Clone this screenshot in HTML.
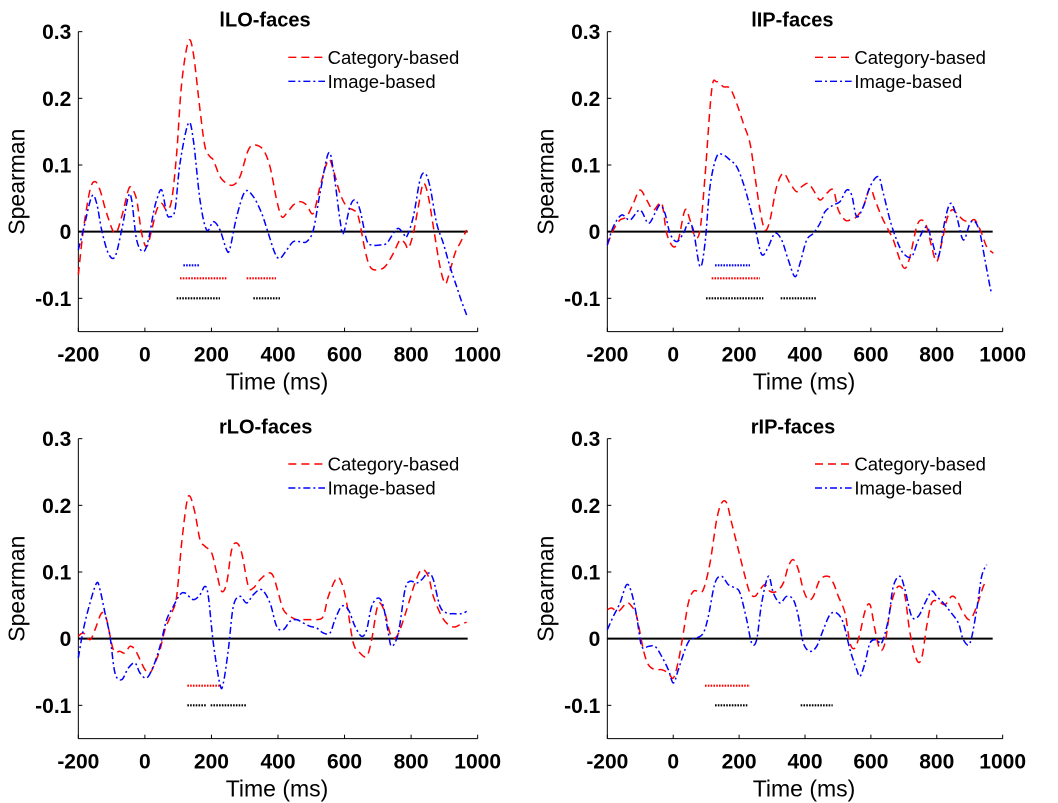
<!DOCTYPE html>
<html><head><meta charset="utf-8"><style>
body{margin:0;background:#fff;}
svg{display:block;font-family:"Liberation Sans",Arial,sans-serif;}
</style></head><body>
<svg id="s" width="1058" height="803" viewBox="0 0 1058 803" xmlns="http://www.w3.org/2000/svg"></svg>
<script>
const NS="http://www.w3.org/2000/svg";
const S=document.getElementById('s');
function el(t,a,txt){const e=document.createElementNS(NS,t);for(const k in a)e.setAttribute(k,a[k]);if(txt!==undefined)e.textContent=txt;S.appendChild(e);return e;}
function pts(arr){const r=[];for(let i=0;i<arr.length;i+=2)r.push([arr[i],arr[i+1]]);return r;}
function cr(p){let d="M"+p[0][0].toFixed(2)+","+p[0][1].toFixed(2);
for(let i=0;i<p.length-1;i++){const p0=p[i-1]||p[i],p1=p[i],p2=p[i+1],p3=p[i+2]||p2;
const c1=[p1[0]+(p2[0]-p0[0])/6,p1[1]+(p2[1]-p0[1])/6],c2=[p2[0]-(p3[0]-p1[0])/6,p2[1]-(p3[1]-p1[1])/6];
d+="C"+c1.map(v=>v.toFixed(2))+" "+c2.map(v=>v.toFixed(2))+" "+p2.map(v=>v.toFixed(2));}return d;}
function panel(P){
 const ox=P.ox,oy=P.oy,X=z=>ox+z/3,Y=z=>oy+z/3;
 const L=P.L,R=P.R,T=P.T,B=P.B,Z=P.Z;
 el('line',{x1:X(L),y1:Y(T),x2:X(L),y2:Y(B),stroke:'#000','stroke-width':1});
 el('line',{x1:X(L),y1:Y(B),x2:X(R),y2:Y(B),stroke:'#000','stroke-width':1});
 el('line',{x1:X(L),y1:Y(Z),x2:X(R-30),y2:Y(Z),stroke:'#000','stroke-width':2});
 const yt=[[0.3,'0.3'],[0.2,'0.2'],[0.1,'0.1'],[0,'0'],[-0.1,'-0.1']];
 const ppu=(B-T)/0.45;
 yt.forEach(([v,s])=>{const y=Y(Z-v*ppu);
  el('line',{x1:X(L),y1:y,x2:X(L)+4,y2:y,stroke:'#000','stroke-width':1});
  el('text',{x:X(L)-7,y:y+7.5,'font-size':21,'font-weight':'bold','text-anchor':'end'},s);});
 const xt=[-200,0,200,400,600,800,1000];
 xt.forEach((v,i)=>{const x=X(L+(R-L)*i/6);
  el('line',{x1:x,y1:Y(B),x2:x,y2:Y(B)-4,stroke:'#000','stroke-width':1});
  el('text',{x:x,y:Y(B)+30,'font-size':21,'font-weight':'bold','text-anchor':'middle'},String(v));});
 el('text',{x:X((L+R)/2)-1,y:Y(B)+58,'font-size':23,'text-anchor':'middle'},'Time (ms)');
 const yc=Y((T+B)/2);
 el('text',{x:0,y:0,'font-size':23,'text-anchor':'middle',transform:`translate(${X(L)-54},${yc}) rotate(-90)`},'Spearman');
 el('text',{x:X(P.tx),y:Y(T)-5,'font-size':20,'font-weight':'bold','text-anchor':'middle'},P.title);
 el('line',{x1:X(P.lx),y1:Y(P.ly),x2:X(P.lx+110),y2:Y(P.ly),stroke:'#f00','stroke-width':1.4,'stroke-dasharray':'8 5'});
 el('line',{x1:X(P.lx),y1:Y(P.ly+72),x2:X(P.lx+110),y2:Y(P.ly+72),stroke:'#00f','stroke-width':1.4,'stroke-dasharray':'7 3 2 3'});
 el('text',{x:X(P.lx+118),y:Y(P.ly)+6.5,'font-size':18.5},'Category-based');
 el('text',{x:X(P.lx+118),y:Y(P.ly+72)+6.5,'font-size':18.5},'Image-based');
 P.dots.forEach(([c,y,a,b])=>{el('line',{x1:X(a),y1:Y(y),x2:X(b),y2:Y(y),stroke:c,'stroke-width':2.2,'stroke-dasharray':'1.6 1.2'});});
 el('path',{d:cr(pts(P.red).map(p=>[X(p[0]),Y(p[1])])),fill:'none',stroke:'#f00','stroke-width':1.5,'stroke-dasharray':'8 5'});
 el('path',{d:cr(pts(P.blue).map(p=>[X(p[0]),Y(p[1])])),fill:'none',stroke:'#00f','stroke-width':1.5,'stroke-dasharray':'7 3 2 3'});
}
panel({ox:0,oy:0,L:235,R:1433,T:95,B:995,Z:695,title:'lLO-faces',tx:795,lx:865,ly:172,
red:[235,825,250,690,270,570,285,545,300,570,320,640,345,700,365,650,385,570,395,565,410,600,425,700,440,740,455,690,470,630,485,610,500,630,515,600,530,460,545,250,565,125,580,160,600,330,615,440,630,470,640,480,660,530,680,550,700,555,720,530,745,450,765,435,790,450,810,500,830,600,845,650,860,640,880,615,900,605,920,615,940,640,960,560,985,480,1000,510,1020,580,1040,620,1060,630,1075,650,1095,750,1110,800,1130,810,1155,800,1180,760,1200,720,1215,730,1225,745,1240,700,1255,620,1270,550,1285,590,1300,680,1320,800,1335,850,1345,830,1365,760,1380,730,1400,690],
blue:[235,750,250,690,275,590,290,610,305,690,325,760,345,770,365,690,385,590,395,600,410,720,430,755,445,720,460,640,470,600,485,570,500,640,510,650,525,630,540,490,565,370,580,420,600,600,620,690,640,665,660,690,680,750,690,745,710,650,735,575,760,590,785,640,805,700,825,760,840,775,860,750,880,725,900,725,920,725,940,690,960,580,985,460,1000,510,1020,660,1030,700,1050,620,1065,600,1080,630,1100,720,1115,735,1140,735,1160,730,1180,700,1195,685,1210,700,1220,710,1240,650,1260,540,1275,520,1290,560,1310,670,1330,730,1350,800,1370,860,1385,905,1400,945],
dots:[['#00f',796,550,598],['#f00',835,540,680],['#f00',835,740,828],['#000',895,530,660],['#000',895,760,840]]});
panel({ox:530,oy:0,L:232,R:1418,T:95,B:995,Z:695,title:'lIP-faces',tx:787,lx:855,ly:172,
red:[232,735,250,690,270,660,290,650,310,610,330,570,350,600,370,630,395,610,410,700,430,740,445,720,465,630,480,660,495,710,510,690,525,530,545,270,560,245,580,260,600,265,620,310,640,370,660,430,675,530,690,630,705,690,720,660,740,560,760,520,780,550,800,575,815,560,835,550,850,570,870,600,890,580,910,570,925,630,945,660,960,660,980,650,1000,620,1020,565,1035,600,1055,650,1075,690,1090,720,1110,780,1125,805,1140,770,1160,680,1175,660,1190,680,1205,740,1220,785,1235,730,1250,660,1265,630,1280,640,1300,660,1320,665,1335,660,1355,700,1370,740,1390,760],
blue:[232,735,250,680,275,645,300,660,330,630,355,670,375,640,390,615,405,640,420,700,440,725,460,700,475,670,490,690,510,800,525,730,540,560,560,470,580,465,600,480,620,500,640,550,660,620,675,680,690,750,700,765,715,740,735,700,755,720,775,780,795,830,810,790,830,720,850,700,870,670,885,635,910,615,930,605,950,570,965,585,980,650,1000,620,1020,560,1045,530,1060,580,1080,660,1100,720,1120,760,1145,770,1165,720,1190,680,1205,720,1225,770,1245,660,1262,610,1280,650,1300,720,1320,670,1335,665,1350,700,1365,780,1380,860,1385,880],
dots:[['#00f',796,555,660],['#f00',835,545,690],['#000',895,528,700],['#000',895,752,858]]});
panel({ox:0,oy:403,L:235,R:1433,T:107,B:1007,Z:707,title:'rLO-faces',tx:797,lx:865,ly:183,
red:[235,700,250,690,270,710,285,680,305,630,320,650,340,740,360,745,375,750,390,730,405,740,420,770,435,800,450,810,465,780,480,740,495,680,515,630,530,580,545,420,560,300,570,280,585,330,600,410,615,430,635,450,650,510,665,565,680,540,695,440,710,420,725,450,745,550,760,555,780,530,805,510,820,520,835,570,850,620,870,640,890,650,910,650,930,650,950,650,970,640,985,580,1010,525,1025,540,1040,600,1060,720,1080,750,1100,760,1115,710,1130,620,1140,600,1155,630,1170,690,1185,705,1200,680,1220,620,1245,540,1265,500,1285,520,1300,580,1325,640,1345,665,1365,672,1385,662,1400,658],
blue:[235,765,250,680,270,600,290,540,300,560,315,630,330,700,345,810,365,830,385,795,405,780,420,810,440,825,460,790,480,730,500,650,520,610,540,575,555,570,580,590,600,575,615,550,625,580,640,720,660,845,670,840,685,740,700,610,720,580,740,600,760,575,785,560,810,600,830,670,850,680,870,655,890,650,910,660,930,670,950,675,970,690,990,690,1005,650,1025,610,1045,620,1065,670,1085,700,1100,680,1115,610,1135,585,1150,610,1165,690,1175,730,1195,690,1215,560,1230,535,1250,540,1265,530,1285,510,1300,530,1320,610,1340,630,1360,632,1385,632,1400,625],
dots:[['#f00',848,562,660],['#000',907,562,620],['#000',907,632,740]]});
panel({ox:530,oy:403,L:232,R:1418,T:107,B:1007,Z:707,title:'rIP-faces',tx:789,lx:855,ly:183,
red:[232,620,245,615,265,625,290,600,305,610,320,640,340,740,355,785,375,800,395,800,415,810,430,825,445,775,460,690,475,600,490,565,505,565,520,560,540,480,560,350,575,300,590,300,605,360,625,440,645,520,660,570,675,580,690,560,705,545,720,565,740,565,760,540,775,490,790,470,805,500,820,560,835,590,850,580,870,530,895,520,910,540,925,580,945,630,960,720,975,735,990,690,1005,625,1020,605,1035,680,1050,740,1065,720,1080,620,1095,565,1110,550,1125,580,1140,690,1160,770,1175,765,1190,670,1205,600,1225,595,1245,605,1265,580,1280,590,1300,630,1320,650,1340,610,1360,550,1370,535],
blue:[232,680,250,640,270,600,290,545,305,570,320,640,335,730,355,730,375,730,395,760,415,800,430,840,445,800,465,740,480,710,500,705,520,690,535,640,555,540,575,520,595,545,615,555,630,570,650,650,665,720,680,710,695,600,715,520,730,570,750,600,770,580,790,590,805,640,820,720,840,745,860,730,880,680,900,635,920,630,940,660,960,740,980,800,990,820,1005,780,1020,720,1040,710,1055,720,1075,650,1090,550,1110,520,1125,560,1145,640,1165,640,1185,600,1205,565,1220,580,1240,600,1260,625,1285,660,1300,710,1320,720,1340,620,1355,520,1370,485],
dots:[['#f00',848,525,660],['#000',907,555,652],['#000',907,812,908]]});
</script>
</body></html>
